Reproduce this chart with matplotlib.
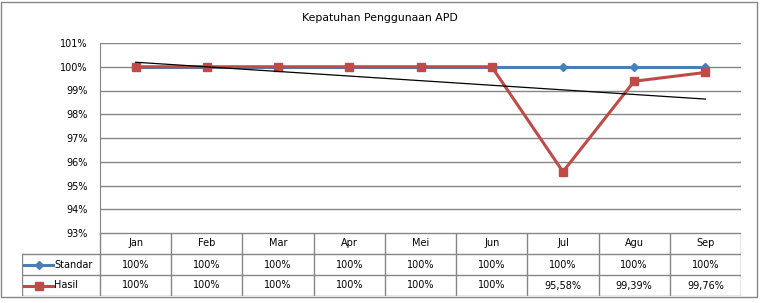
import numpy as np
import matplotlib.pyplot as plt
from matplotlib.lines import Line2D

plt.rcParams['font.family'] = ['DejaVu Sans']

# data
bulan = ['Jan', 'Feb', 'Mar', 'Apr', 'Mei', 'Jun', 'Jul', 'Agu', 'Sep']
standar = [100, 100, 100, 100, 100, 100, 100, 100, 100]
hasil = [100, 100, 100, 100, 100, 100, 95.58, 99.39, 99.76]
standar_lbl = ['100%'] * 9
hasil_lbl = ['100%', '100%', '100%', '100%', '100%', '100%', '95,58%', '99,39%', '99,76%']

W, H = 767, 303
fig = plt.figure(figsize=(W / 100, H / 100), dpi=100)
grey = '#868686'
blue = '#4A7EBB'
red = '#BE4B48'
fs = 7

# outer frame
fig.patches.append(plt.Rectangle((1 / W, 6 / H), 756 / W, 295 / H, transform=fig.transFigure,
                                 fill=False, edgecolor=grey, lw=1))

def px(x0, y0, x1, y1):
    return [x0 / W, 1 - y1 / H, (x1 - x0) / W, (y1 - y0) / H]

# main plot
ax = fig.add_axes(px(100, 43, 741, 233))
x = np.arange(len(bulan))
ax.set_xlim(-0.5, 8.5)
ax.set_ylim(93, 101)
ax.set_yticks(range(93, 102))
ax.set_yticklabels([f'{v}%' for v in range(93, 102)], fontsize=fs)
ax.set_xticks([])
ax.tick_params(axis='y', length=0, pad=9)
for s in ['top', 'right', 'bottom']:
    ax.spines[s].set_visible(False)
ax.spines['left'].set_color(grey)
ax.grid(axis='y', color=grey, lw=1)
ax.set_axisbelow(True)

ax.plot(x, standar, color=blue, lw=2.2, marker='D', ms=4.5, zorder=3)
ax.plot(x, hasil, color=red, lw=2.2, marker='s', ms=6, zorder=4)
k, c = np.polyfit(x, hasil, 1)
ax.plot(x, k * x + c, color='black', lw=0.9, zorder=5)

fig.text(380 / W, 1 - 18 / H, 'Kepatuhan Penggunaan APD', ha='center', va='center', fontsize=7.8)

# data table
tab = fig.add_axes(px(22, 233, 741, 296))
lft = -0.5 - 78 / 71.2
tab.set_xlim(lft, 8.5)
tab.set_ylim(3, 0)
tab.axis('off')
lk = dict(color=grey, lw=1)
for yy in [0, 1, 2, 3]:
    tab.plot([-0.5 if yy == 0 else lft, 8.5], [yy, yy], **lk)
for xx in np.arange(-0.5, 9.0, 1):
    tab.plot([xx, xx], [0, 3], **lk)
tab.plot([lft, lft], [1, 3], **lk)
for i, b in enumerate(bulan):
    tab.text(i, 0.5, b, ha='center', va='center', fontsize=fs)
    tab.text(i, 1.5, standar_lbl[i], ha='center', va='center', fontsize=fs)
    tab.text(i, 2.5, hasil_lbl[i], ha='center', va='center', fontsize=fs)
tab.add_line(Line2D([lft + 0.03, lft + 0.235, lft + 0.44], [1.5, 1.5, 1.5], color=blue, lw=2.2,
                    marker='D', ms=4.5, markevery=[1], clip_on=False))
tab.add_line(Line2D([lft + 0.03, lft + 0.235, lft + 0.44], [2.5, 2.5, 2.5], color=red, lw=2.2,
                    marker='s', ms=6, markevery=[1], clip_on=False))
tab.text(lft + 0.45, 1.5, 'Standar', ha='left', va='center', fontsize=fs)
tab.text(lft + 0.45, 2.5, 'Hasil', ha='left', va='center', fontsize=fs)

fig.savefig('out.png', dpi=100)
